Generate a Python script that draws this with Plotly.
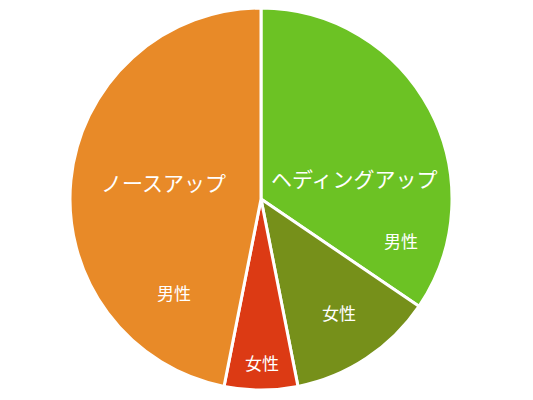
import plotly.graph_objects as go

# pie slices, clockwise from 12 o'clock
labels = ["ヘディングアップ 男性", "ヘディングアップ 女性", "ノースアップ 女性", "ノースアップ 男性"]
values = [34.5, 12.4, 6.2, 46.9]
colors = ["#6cc224", "#76901a", "#dc3a14", "#e88a28"]

# text on the chart
group_names = ["ノースアップ", "ヘディングアップ"]
sex_names = ["男性", "女性", "女性", "男性"]

fig = go.Figure(
    go.Pie(
        labels=labels,
        values=values,
        sort=False,
        direction="clockwise",
        rotation=0,
        marker=dict(colors=colors, line=dict(color="white", width=3)),
        textinfo="none",
        hoverinfo="label+percent",
    )
)

fnt = "Noto Sans CJK JP"

# page body has an 8px margin, plot area is 506 x 382
def px2paper(x, y):
    return (x - 8) / 506, 1 - (y - 8) / 382

# group labels
for t, p in zip(group_names, [(163, 182), (354, 178)]):
    ax, ay = px2paper(*p)
    fig.add_annotation(x=ax, y=ay, xref="paper", yref="paper",
                       xanchor="center", yanchor="middle",
                       text=t, showarrow=False,
                       font=dict(family=fnt, size=21, color="white"))

# small labels per slice
pos = [(401, 241), (339, 312), (262, 362), (174, 292)]
for t, p in zip(sex_names, pos):
    ax, ay = px2paper(*p)
    fig.add_annotation(x=ax, y=ay, xref="paper", yref="paper",
                       xanchor="center", yanchor="middle",
                       text=t, showarrow=False,
                       font=dict(family=fnt, size=17, color="white"))

fig.update_layout(
    width=525, height=392,
    margin=dict(l=0, r=19, t=0, b=10),
    showlegend=False,
    paper_bgcolor="white",
    plot_bgcolor="white",
)

fig.write_html("out.html")
